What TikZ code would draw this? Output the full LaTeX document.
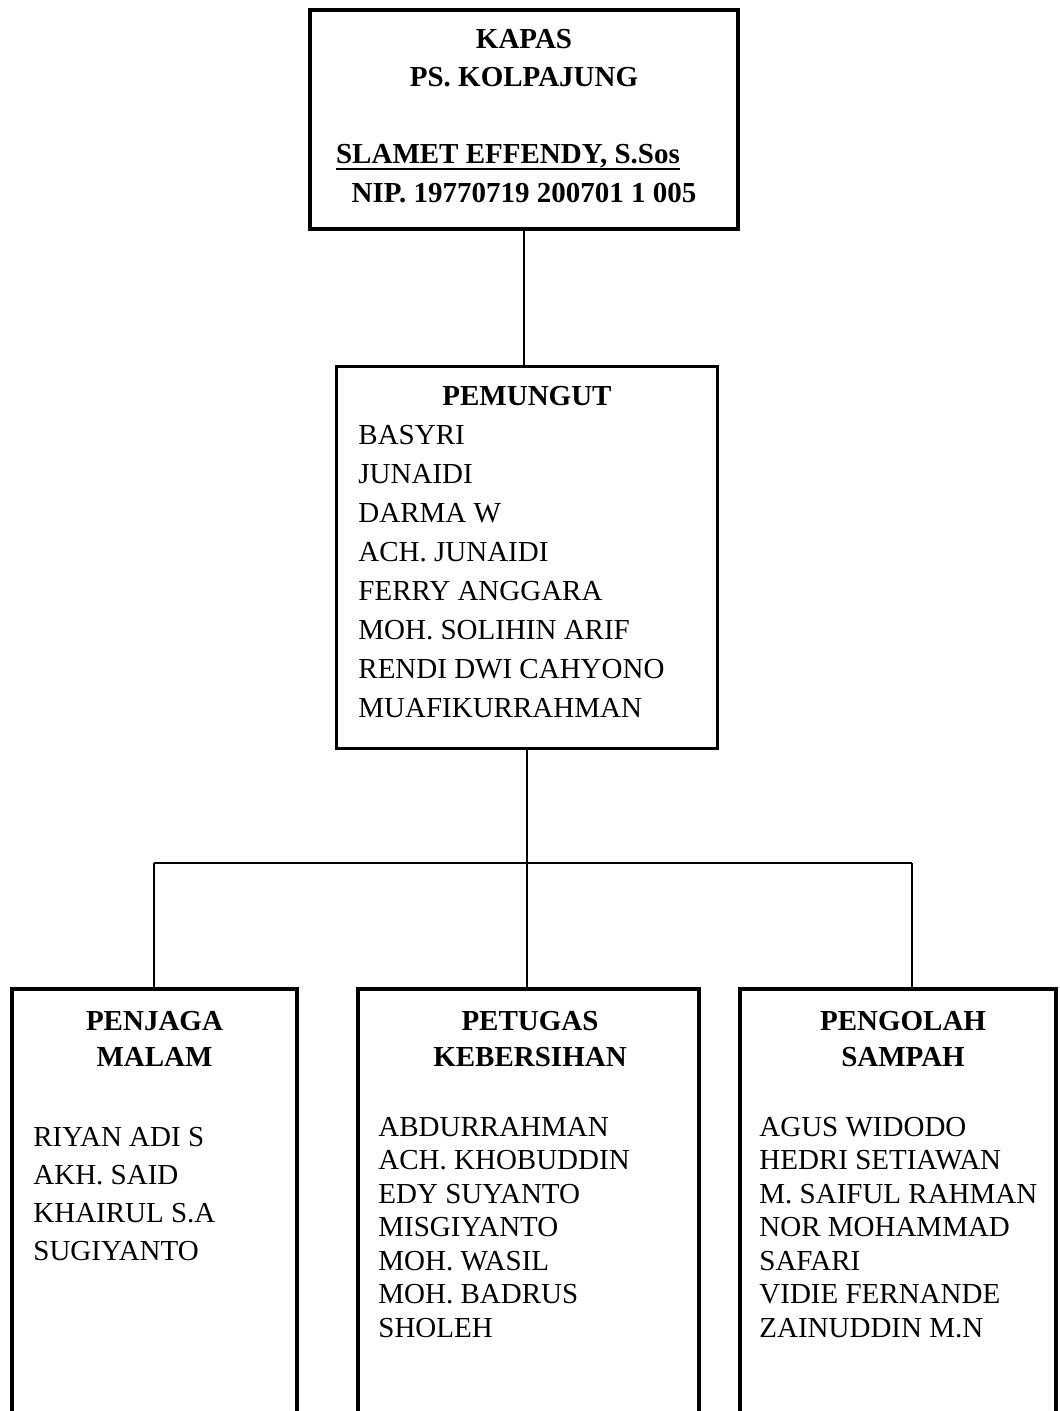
\documentclass[tikz,border=0pt]{standalone}
\usepackage{fontspec}
\setmainfont{Liberation Serif}
\newsavebox{\kotakgaris}
\newcommand{\garisbawah}[1]{\sbox{\kotakgaris}{#1}\rlap{\vrule width\wd\kotakgaris height -2pt depth 3pt}\usebox{\kotakgaris}}
\begin{document}
\begin{tikzpicture}[x=0.5pt, y=-0.5pt]
	\tikzset{kotak/.style={draw=black, line width=1.8pt, inner sep=0pt}, judul/.style={inner sep=0pt, align=center, font=\bfseries\fontsize{14.5pt}{18.25pt}\selectfont}, daftar/.style={inner sep=0pt, align=left, anchor=north west, font=\fontsize{14.5pt}{19pt}\selectfont}, garis/.style={line width=1.1pt}};

	\useasboundingbox (0,0) rectangle (1059,1411);

	\node[kotak, minimum width=214pt, minimum height=109.5pt] (kapas)    at ( 524,  119.5) {};
	\node[kotak, minimum width=190.5pt, minimum height=191pt] (pemungut) at ( 527,  557.5) {};
	\node[kotak, minimum width=142.5pt, minimum height=230pt] (penjaga)  at ( 154.5, 1219) {};
	\node[kotak, minimum width=170.5pt, minimum height=230pt] (petugas)  at ( 528.5, 1219) {};
	\node[kotak, minimum width=158pt,   minimum height=230pt] (pengolah) at ( 898,  1219) {};

	\node[judul, anchor=north, font=\bfseries\fontsize{14.5pt}{19.3pt}\selectfont] (judulkapas) at (524, 28.5) {KAPAS\\PS. KOLPAJUNG\\[19.3pt]\garisbawah{SLAMET EFFENDY, S.Sos}\hbox to 16pt{}\\NIP. 19770719 200701 1 005};

	\node[judul, anchor=base] (judulpemungut) at (527, 406) {PEMUNGUT};
	\node[daftar, font=\fontsize{14.5pt}{19.5pt}\selectfont] (isipemungut) at (358, 424.5) {BASYRI\\JUNAIDI\\DARMA W\\ACH. JUNAIDI\\FERRY ANGGARA\\MOH. SOLIHIN ARIF\\RENDI DWI CAHYONO\\MUAFIKURRAHMAN};

	\node[judul, anchor=north] (judulpenjaga)  at (154.5, 1010.5) {PENJAGA\\MALAM};
	\node[judul, anchor=north] (judulpetugas)  at (530,   1010.5) {PETUGAS\\KEBERSIHAN};
	\node[judul, anchor=north] (judulpengolah) at (903,   1010.5) {PENGOLAH\\SAMPAH};

	\node[daftar] (isipenjaga) at (33, 1126.5) {RIYAN ADI S\\AKH. SAID\\KHAIRUL S.A\\SUGIYANTO};
	\node[daftar, font=\fontsize{14.5pt}{16.75pt}\selectfont] (isipetugas) at (378, 1116.5) {ABDURRAHMAN\\ACH. KHOBUDDIN\\EDY SUYANTO\\MISGIYANTO\\MOH. WASIL\\MOH. BADRUS\\SHOLEH};
	\node[daftar, font=\fontsize{14.5pt}{16.75pt}\selectfont] (isipengolah) at (759, 1116.5) {AGUS WIDODO\\HEDRI SETIAWAN\\M. SAIFUL RAHMAN\\NOR MOHAMMAD\\SAFARI\\VIDIE FERNANDE\\ZAINUDDIN M.N};

	\coordinate (cabangkiri)  at (154, 863);
	\coordinate (cabangkanan) at (912, 863);

	\draw[garis] (kapas.south) -- (kapas.south |- pemungut.north);
	\draw[garis] (pemungut.south) -- (pemungut.south |- petugas.north);
	\draw[garis] (cabangkiri) -- (cabangkanan);
	\draw[garis] (cabangkiri) -- (cabangkiri |- penjaga.north);
	\draw[garis] (cabangkanan) -- (cabangkanan |- pengolah.north);

\end{tikzpicture}
\end{document}
